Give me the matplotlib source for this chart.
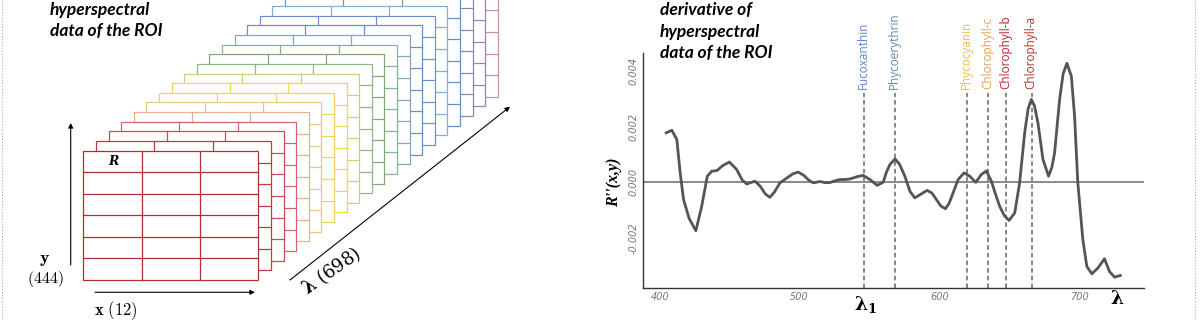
"""Hyperspectral cube sketch + second-derivative spectrum of the ROI."""
import matplotlib
matplotlib.use("Agg")
import matplotlib.pyplot as plt
import matplotlib.transforms as mtransforms
from matplotlib.patches import Rectangle

# second derivative spectrum (nm, R'')
wavelength = [404.6, 408.6, 412.2, 414.6, 417.0, 421.0, 425.8, 430.0, 434.0, 437.2,
              440.8, 445.0, 449.8, 455.0, 459.0, 462.2, 465.0, 468.1, 472.0, 475.5,
              478.8, 482.0, 486.0, 491.0, 495.0, 499.0, 503.0, 506.5, 509.8, 514.6,
              518.0, 521.7, 525.0, 528.9, 532.0, 536.0, 541.0, 545.5, 550.3, 555.5,
              559.8, 562.0, 564.6, 568.3, 571.5, 575.3, 578.9, 582.4, 586.0, 591.2,
              594.5, 597.9, 601.0, 604.3, 607.0, 609.8, 613.4, 617.7, 621.7, 626.0,
              630.0, 633.6, 637.2, 640.0, 643.1, 646.5, 649.8, 653.9, 657.4, 661.0,
              663.5, 665.8, 668.0, 670.5, 674.1, 678.1, 680.5, 682.4, 686.0, 688.5,
              691.2, 694.4, 696.7, 699.0, 702.6, 705.5, 709.1, 713.4, 718.1, 721.7,
              725.3, 729.4]
deriv_e3 = [1.78, 1.87, 1.54, 0.34, -0.62, -1.30, -1.74, -0.86, 0.22, 0.40,
            0.42, 0.60, 0.73, 0.46, 0.08, -0.06, -0.01, 0.04, -0.15, -0.42,
            -0.54, -0.35, -0.02, 0.16, 0.30, 0.37, 0.25, 0.08, -0.02, 0.03,
            -0.01, -0.01, 0.05, 0.10, 0.10, 0.12, 0.20, 0.25, 0.10, -0.11,
            0.00, 0.35, 0.64, 0.84, 0.65, 0.22, -0.32, -0.56, -0.45, -0.29,
            -0.38, -0.62, -0.85, -0.95, -0.75, -0.38, 0.10, 0.34, 0.22, 0.00,
            0.28, 0.41, 0.04, -0.40, -0.86, -1.20, -1.37, -1.10, -0.02, 1.78,
            2.65, 2.98, 2.75, 2.14, 0.82, 0.22, 0.55, 1.06, 2.98, 3.90,
            4.28, 3.82, 2.38, 0.00, -2.06, -3.03, -3.29, -3.08, -2.75, -3.21,
            -3.41, -3.35]
deriv = [v / 1000 for v in deriv_e3]

pigments = ["Fucoxanthin", "Phycoerythrin", "Phycocyanin",
            "Chlorophyll-c", "Chlorophyll-b", "Chlorophyll-a"]
pigment_nm = [546, 568, 620, 635, 648, 666]
pigment_colors = ["#5b86c9", "#5f8aa8", "#e8c33a", "#e0a552", "#c42030", "#b5332e"]

x_ticks = [400, 500, 600, 700]
y_ticks = [-0.002, 0.0, 0.002, 0.004]
y_ticklabels = ["-0.002", "0.000", "0.002", "0.004"]

# cube layers, front to back
layer_colors = ["#b03030", "#c83a3a", "#d04858", "#d86070", "#e8b090",
                "#e8c880", "#f0d060", "#f0d850", "#c8d080", "#90b880",
                "#80a870", "#88b0a0", "#80a8c0", "#6890c8", "#7090d0",
                "#80b0d8", "#6890c0", "#8888b0", "#a080b8", "#c890a8"]
n_cols, n_rows = 3, 6

fig = plt.figure(figsize=(12, 3.2), dpi=100)

# ---- left: cube drawn in pixel coordinates
canvas = fig.add_axes([0, 0, 1, 1])
canvas.set_xlim(0, 1200)
canvas.set_ylim(320, 0)
canvas.axis("off")

x0, y0, w, h = 83.3, 150.7, 175, 129.3
dx, dy = 12.6, -9.65
n = len(layer_colors)
for i in reversed(range(n)):
    col = layer_colors[i]
    lx, ly = x0 + dx * i, y0 + dy * i
    z = 2 + (n - i) * 0.01
    canvas.add_patch(Rectangle((lx, ly), w, h, facecolor="white", edgecolor=col,
                               lw=0.9, zorder=z))
    for c in range(1, n_cols):
        canvas.plot([lx + c * w / n_cols] * 2, [ly, ly + h], color=col, lw=0.9, zorder=z + 0.001)
    for r in range(1, n_rows):
        canvas.plot([lx, lx + w], [ly + r * h / n_rows] * 2, color=col, lw=0.9, zorder=z + 0.001)

canvas.text(113, 161.5, "R", family="DejaVu Serif", weight="bold", style="italic",
            fontsize=9, ha="center", va="center", zorder=5)

arrow = dict(arrowstyle="-|>", color="black", lw=0.8, mutation_scale=7, shrinkA=0, shrinkB=0)
canvas.annotate("", xy=(70.7, 123), xytext=(70.7, 265), arrowprops=arrow)
canvas.annotate("", xy=(255, 292.3), xytext=(95, 292.3), arrowprops=arrow)
canvas.annotate("", xy=(510, 106.7), xytext=(290, 280), arrowprops=arrow)

canvas.text(44.5, 259, r"$\mathbf{y}$", math_fontfamily="cm", fontsize=13, ha="center", va="center")
canvas.text(45, 279, r"$(444)$", math_fontfamily="cm", fontsize=11.5, ha="center", va="center")
canvas.text(94, 310.5, r"$\mathbf{x}\ (12)$", math_fontfamily="cm", fontsize=12, ha="left", va="center")
canvas.text(331, 271, r"$\mathbf{\lambda}\ \mathrm{(698)}$", math_fontfamily="dejavuserif",
            fontsize=13, rotation=35, ha="center", va="center", rotation_mode="anchor")

title_kw = dict(family="Lato", weight="bold", style="italic", fontsize=12.5, va="center")
canvas.text(50, 9.5, "hyperspectral", **title_kw)
canvas.text(50, 31, "data of the ROI", **title_kw)
canvas.text(660, 10, "derivative of", **title_kw)
canvas.text(660, 31.5, "hyperspectral", **title_kw)
canvas.text(660, 52.5, "data of the ROI", **title_kw)

canvas.text(614, 182, "R''(x,y)", family="Liberation Serif", weight="bold", style="italic",
            fontsize=11.5, rotation=90, ha="center", va="center")

for bx in (1.5, 1195):
    canvas.plot([bx, bx], [0, 320], ls=":", color="#aaaaaa", lw=0.8)

# ---- right: spectrum
ax = fig.add_axes([643 / 1200, 1 - 288 / 320, 500.5 / 1200, 235 / 320])
ax.set_facecolor("none")
ax.plot(wavelength, deriv, color="#555555", lw=2, solid_joinstyle="round", zorder=3)
ax.axhline(0, color="#777777", lw=1.2, zorder=2)
ax.set_xlim(388, 746)
ax.set_ylim(-0.0038, 0.00465)

for s in ("top", "right"):
    ax.spines[s].set_visible(False)
for s in ("left", "bottom"):
    ax.spines[s].set_color("#333333")
    ax.spines[s].set_linewidth(1)

ax.set_xticks(x_ticks)
ax.set_xticklabels([str(t) for t in x_ticks], style="italic", color="#777777", fontsize=7)
ax.set_yticks(y_ticks)
ax.set_yticklabels(y_ticklabels, style="italic", color="#777777", fontsize=7,
                   rotation=90, va="center")
ax.tick_params(length=0, pad=3)

trans = mtransforms.blended_transform_factory(ax.transData, ax.transAxes)
for name, nm, col in zip(pigments, pigment_nm, pigment_colors):
    ax.axvline(nm, ymin=0, ymax=0.83, ls=(0, (3, 2)), color="#666666", lw=1.1, zorder=1)
    ax.text(nm - 0.5, 0.845, name, transform=trans, rotation=90, ha="center", va="bottom",
            color=col, fontsize=8.5, family="Open Sans")

ax.text(pigment_nm[0] + 1, -0.07, r"$\mathbf{\lambda_1}$", transform=trans,
        math_fontfamily="dejavuserif", fontsize=13.5, ha="center", va="center")
ax.text(727, -0.045, r"$\mathbf{\lambda}$", transform=trans,
        math_fontfamily="dejavuserif", fontsize=13.5, ha="center", va="center")

fig.savefig("out.png", dpi=100)
